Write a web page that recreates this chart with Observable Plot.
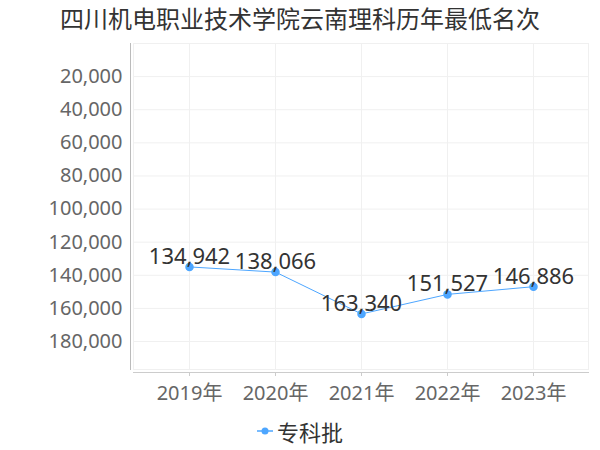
<!DOCTYPE html>
<html>
<head>
<meta charset="utf-8">
<script src="https://cdn.jsdelivr.net/npm/d3@7"></script>
<script src="https://cdn.jsdelivr.net/npm/@observablehq/plot@0.6"></script>
<style>
  html, body { margin: 0; padding: 0; background: #fff; }
  #wrap { width: 600px; height: 450px; position: relative; overflow: hidden; }
  #title { height: 36px; line-height: 36px; text-align: center; font-family: "Noto Sans CJK SC", sans-serif; font-size: 24px; color: #333; }
  #legend { height: 42px; display: flex; justify-content: center; align-items: center; font-family: "Noto Sans CJK SC", sans-serif; font-size: 22px; color: #333; padding-top: 4px; box-sizing: border-box; }
  #legend svg { margin-right: 4px; }
</style>
</head>
<body>
<div id="wrap">
  <div id="title">四川机电职业技术学院云南理科历年最低名次</div>
  <div id="chart"></div>
  <div id="legend"></div>
</div>
<script>
const titleText = "四川机电职业技术学院云南理科历年最低名次";
const years = ["2019年", "2020年", "2021年", "2022年", "2023年"];
const ranks = [134942, 138066, 163340, 151527, 146886];
const seriesName = "专科批";
const yTicks = [20000, 40000, 60000, 80000, 100000, 120000, 140000, 160000, 180000];

const data = years.map((y, i) => ({year: y, rank: ranks[i]}));
const fmt = d3.format(",");
const blue = "#4da6ff";
const font = "'Noto Sans', 'Noto Sans CJK SC', sans-serif";

const chart = Plot.plot({
  width: 600,
  height: 372,
  marginTop: 7,
  marginBottom: 39,
  marginLeft: 133,
  marginRight: 12,
  style: {fontFamily: font, background: "#fff"},
  x: {type: "point", domain: years, padding: 0, insetLeft: 55, insetRight: 55},
  y: {domain: [0, 196900], reverse: true},
  marks: [
    Plot.gridY(yTicks, {stroke: "#f0f0f0", strokeOpacity: 1}),
    Plot.gridX(years, {stroke: "#f0f0f0", strokeOpacity: 1}),
    Plot.frame({stroke: "#f0f0f0"}),
    Plot.frame({anchor: "left", stroke: "#bbb", dx: -3}),
    Plot.frame({anchor: "bottom", stroke: "#ccc", dy: 3}),
    Plot.axisY(yTicks, {tickSize: 0, tickPadding: 11, tickFormat: fmt, fontSize: 20, fill: "#666", label: null}),
    Plot.axisX({tickSize: 4, dy: 3, tickPadding: 9, fontSize: 20, fill: "#666", stroke: "#ccc", label: null}),
    Plot.line(data, {x: "year", y: "rank", stroke: blue, strokeWidth: 1}),
    Plot.dot(data, {x: "year", y: "rank", r: 3.5, fill: blue, stroke: blue}),
    Plot.text(data, {x: "year", y: "rank", text: d => fmt(d.rank), fontSize: 22, fill: "#333", lineAnchor: "bottom", dy: -3})
  ]
});
document.getElementById("chart").appendChild(chart);

const legend = document.getElementById("legend");
legend.innerHTML = `<svg width="16" height="10"><line x1="0" y1="5" x2="16" y2="5" stroke="${blue}" stroke-width="1.5"/><circle cx="8" cy="5" r="3.5" fill="${blue}"/></svg><span>${seriesName}</span>`;
</script>
</body>
</html>
